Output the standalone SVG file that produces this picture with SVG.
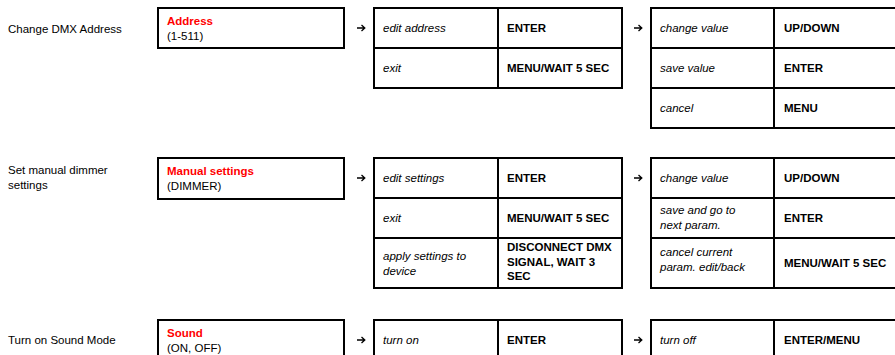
<svg xmlns="http://www.w3.org/2000/svg" width="895" height="355" viewBox="0 0 895 355">
<style>
text{font-family:"Liberation Sans",Arial,sans-serif;font-size:11.5px;fill:#000}
.b{font-weight:bold;font-size:11.5px}
.i{font-style:italic}
.r{fill:#ff0000;font-weight:bold}
.bx{fill:#fff;stroke:#000;stroke-width:2}
.ln{stroke:#000;stroke-width:2;fill:none}
.ar{stroke:#000;stroke-width:1.3;fill:none}
</style>
<rect width="895" height="355" fill="#fff"/>
<g id="labels">
<text x="8" y="33">Change DMX Address</text>
<text x="8" y="174">Set manual dimmer</text>
<text x="8" y="189">settings</text>
<text x="8" y="344">Turn on Sound Mode</text>
</g>
<g id="node-address">
<rect class="bx" x="158" y="8" width="186" height="40"/>
<text class="r" x="167" y="25">Address</text>
<text x="167" y="40">(1-511)</text>
</g>
<g id="node-address-menu">
<rect class="bx" x="374" y="8" width="248" height="80"/>
<path class="ln" d="M498,8V88M374,48H622"/>
<text class="i" x="383" y="32">edit address</text>
<text class="b" x="507" y="32">ENTER</text>
<text class="i" x="383" y="72">exit</text>
<text class="b" x="507" y="72">MENU/WAIT 5 SEC</text>
</g>
<g id="node-address-edit">
<rect class="bx" x="651" y="8" width="260" height="120"/>
<path class="ln" d="M774,8V128M651,48H911M651,88H911"/>
<text class="i" x="660" y="32">change value</text>
<text class="b" x="784" y="32">UP/DOWN</text>
<text class="i" x="660" y="72">save value</text>
<text class="b" x="784" y="72">ENTER</text>
<text class="i" x="660" y="112">cancel</text>
<text class="b" x="784" y="112">MENU</text>
</g>
<g id="node-manual">
<rect class="bx" x="158" y="158" width="186" height="41"/>
<text class="r" x="167" y="175">Manual settings</text>
<text x="167" y="190">(DIMMER)</text>
</g>
<g id="node-manual-menu">
<rect class="bx" x="374" y="158" width="248" height="130"/>
<path class="ln" d="M498,158V288M374,198H622M374,238H622"/>
<text class="i" x="383" y="182">edit settings</text>
<text class="b" x="507" y="182">ENTER</text>
<text class="i" x="383" y="222">exit</text>
<text class="b" x="507" y="222">MENU/WAIT 5 SEC</text>
<text class="i" x="383" y="260">apply settings to</text>
<text class="i" x="383" y="275">device</text>
<text class="b" x="507" y="251">DISCONNECT DMX</text>
<text class="b" x="507" y="265.5">SIGNAL, WAIT 3</text>
<text class="b" x="507" y="280">SEC</text>
</g>
<g id="node-manual-edit">
<rect class="bx" x="651" y="158" width="260" height="130"/>
<path class="ln" d="M774,158V288M651,198H911M651,238H911"/>
<text class="i" x="660" y="182">change value</text>
<text class="b" x="784" y="182">UP/DOWN</text>
<text class="i" x="660" y="214">save and go to</text>
<text class="i" x="660" y="229">next param.</text>
<text class="b" x="784" y="222">ENTER</text>
<text class="i" x="660" y="256">cancel current</text>
<text class="i" x="660" y="271">param. edit/back</text>
<text class="b" x="784" y="267">MENU/WAIT 5 SEC</text>
</g>
<g id="node-sound">
<rect class="bx" x="158" y="320" width="186" height="50"/>
<text class="r" x="167" y="337">Sound</text>
<text x="167" y="352">(ON, OFF)</text>
</g>
<g id="node-sound-menu">
<rect class="bx" x="374" y="320" width="248" height="50"/>
<path class="ln" d="M498,320V370"/>
<text class="i" x="383" y="344">turn on</text>
<text class="b" x="507" y="344">ENTER</text>
</g>
<g id="node-sound-edit">
<rect class="bx" x="651" y="320" width="260" height="50"/>
<path class="ln" d="M774,320V370"/>
<text class="i" x="660" y="344">turn off</text>
<text class="b" x="784" y="344">ENTER/MENU</text>
</g>
<g id="connectors">
<path class="ar" d="M357,28H364.5M361.5,25L364.8,28L361.5,31"/>
<path class="ar" d="M634,28H641.5M638.5,25L641.8,28L638.5,31"/>
<path class="ar" d="M357,178H364.5M361.5,175L364.8,178L361.5,181"/>
<path class="ar" d="M634,178H641.5M638.5,175L641.8,178L638.5,181"/>
<path class="ar" d="M357,340H364.5M361.5,337L364.8,340L361.5,343"/>
<path class="ar" d="M634,340H641.5M638.5,337L641.8,340L638.5,343"/>
</g>
</svg>
